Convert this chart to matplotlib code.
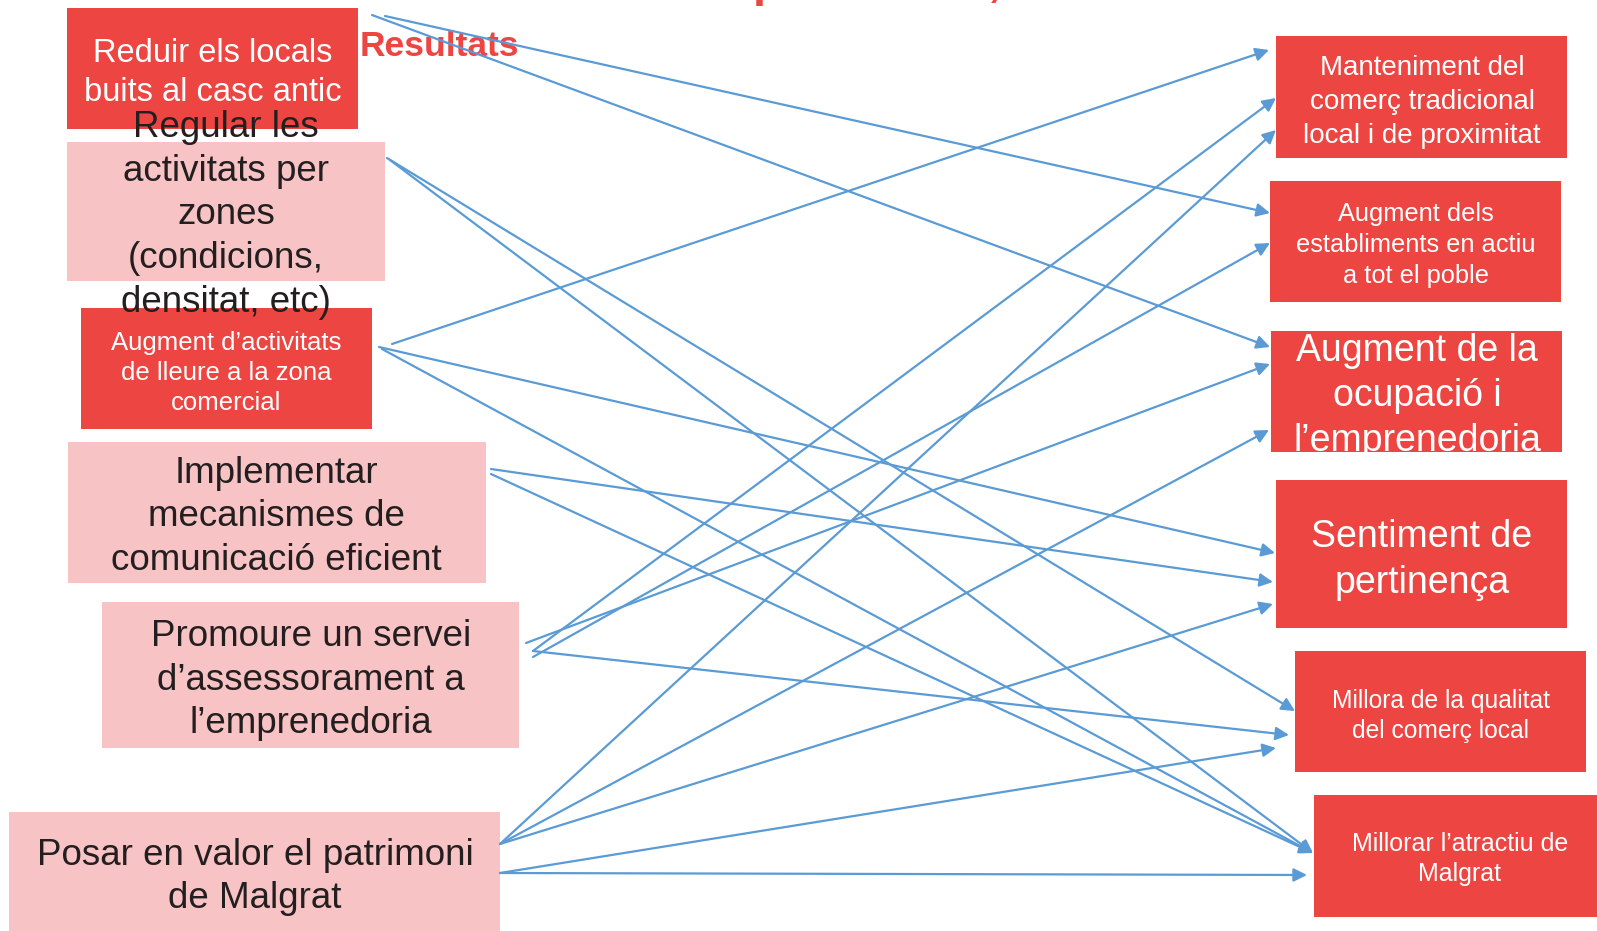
import matplotlib
matplotlib.use("Agg")
import matplotlib.pyplot as plt
from matplotlib.patches import Rectangle

# actions (left) and results (right)
actions = [
    "Reduir els locals\nbuits al casc antic",
    "Regular les\nactivitats per\nzones\n(condicions,\ndensitat, etc)",
    "Augment d’activitats\nde lleure a la zona\ncomercial",
    "Implementar\nmecanismes de\ncomunicació eficient",
    "Promoure un servei\nd’assessorament a\nl’emprenedoria",
    "Posar en valor el patrimoni\nde Malgrat",
]
results = [
    "Manteniment del\ncomerç tradicional\nlocal i de proximitat",
    "Augment dels\nestabliments en actiu\na tot el poble",
    "Augment de la\nocupació i\nl’emprenedoria",
    "Sentiment de\npertinença",
    "Millora de la qualitat\ndel comerç local",
    "Millorar l’atractiu de\nMalgrat",
]
# which action feeds which result
links = [
    (0, 1), (0, 2),
    (1, 4), (1, 5),
    (2, 0), (2, 3), (2, 5),
    (3, 3), (3, 5),
    (4, 0), (4, 1), (4, 2), (4, 4),
    (5, 0), (5, 2), (5, 3), (5, 4), (5, 5),
]

# ---- layout (pixels, y down) ----
RED = "#ED4542"
PINK = "#F8C3C4"
BLUE = "#5B9BD5"

act_box = [(67, 8, 358, 129), (67, 142, 385, 281), (81, 308, 372, 429),
           (68, 442, 486, 583), (102, 602, 519, 748), (9, 812, 500, 940)]
act_col = [RED, PINK, RED, PINK, PINK, PINK]
act_txt = [(213, 73, 23.5, 1.37), (226, 215, 26.5, 1.32), (226, 373, 18.5, 1.31),
           (276, 517, 26.5, 1.32), (311, 680, 26.5, 1.32), (255, 877, 26.5, 1.32)]

res_box = [(1276, 36, 1567, 158), (1270, 181, 1561, 302), (1271, 331, 1562, 452),
           (1276, 480, 1567, 628), (1295, 651, 1586, 772), (1314, 795, 1610, 917)]
res_txt = [(1422, 102, 20, 1.38), (1416, 245, 18.3, 1.36), (1417, 396, 27, 1.33),
           (1422, 560, 27, 1.34), (1441, 716, 17.7, 1.36), (1460, 859, 18, 1.36)]

# start / end anchor of every link, same order as links
link_start = [(385, 16), (372, 15),
              (387, 158), (390, 160),
              (392, 344), (379, 347), (382, 349),
              (491, 469), (491, 474),
              (533, 651), (533, 657), (526, 643), (533, 651),
              (500, 844), (500, 844), (500, 844), (500, 873), (500, 873)]
link_end = [(1270, 213), (1270, 347),
            (1295, 711), (1313, 853),
            (1269, 50), (1275, 553), (1313, 853),
            (1273, 582), (1313, 853),
            (1276, 98), (1270, 243), (1270, 364), (1289, 735),
            (1276, 130), (1269, 430), (1273, 604), (1276, 748), (1307, 875)]

fam = ["Liberation Sans", "DejaVu Sans"]

fig = plt.figure(figsize=(15.97, 9.31), dpi=100)
ax = fig.add_axes([0, 0, 1, 1])
ax.set_xlim(0, 1597)
ax.set_ylim(931, 0)
ax.axis("off")

for (x0, y0, x1, y1), c in zip(act_box, act_col):
    ax.add_patch(Rectangle((x0, y0), x1 - x0, y1 - y0, color=c, lw=0, zorder=1))
for (x0, y0, x1, y1) in res_box:
    ax.add_patch(Rectangle((x0, y0), x1 - x0, y1 - y0, color=RED, lw=0, zorder=1))

for lab, (x, y, fs, ls), c in zip(actions, act_txt, act_col):
    tc = "white" if c == RED else "#231F20"
    ax.text(x, y, lab, ha="center", va="center", fontsize=fs, color=tc,
            family=fam, linespacing=ls, zorder=3 if c == PINK else 2)
for lab, (x, y, fs, ls) in zip(results, res_txt):
    ax.text(x, y, lab, ha="center", va="center", fontsize=fs, color="white",
            family=fam, linespacing=ls, zorder=2)

ax.text(360, 47, "Resultats", ha="left", va="center", fontsize=25.5,
        fontweight="bold", color=RED, family=fam, zorder=2)
# title sits above the page, only its lower edge shows
ax.text(753, -4, "p", ha="left", va="baseline", fontsize=34, fontweight="bold",
        color=RED, family=fam)
ax.text(988, -4, ",", ha="left", va="baseline", fontsize=34, fontweight="bold",
        color=RED, family=fam)

for s, e in zip(link_start, link_end):
    ax.annotate("", xy=e, xytext=s,
                arrowprops=dict(arrowstyle="-|>", color=BLUE, lw=1.6,
                                mutation_scale=20, shrinkA=0, shrinkB=0),
                zorder=4)

fig.savefig("out.png", dpi=100)
